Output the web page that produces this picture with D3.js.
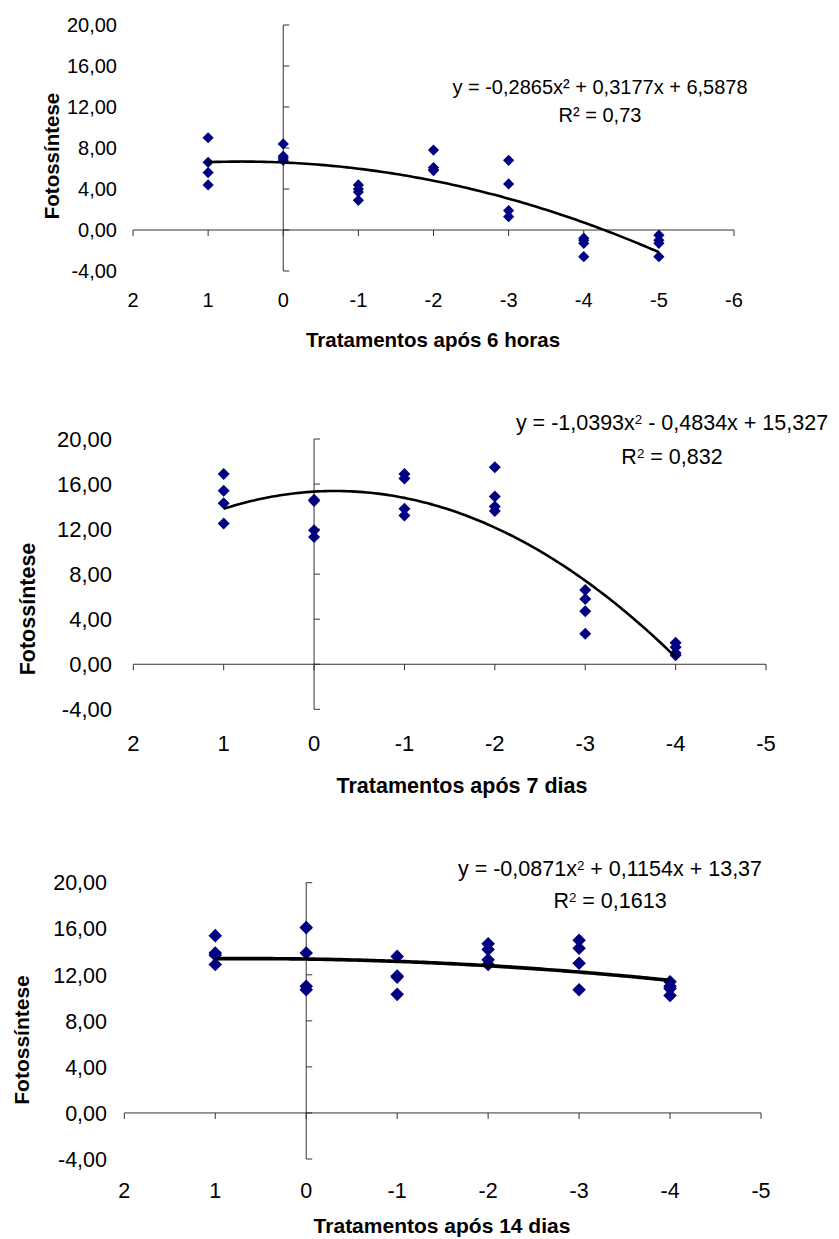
<!DOCTYPE html>
<html>
<head>
<meta charset="utf-8">
<script src="https://cdn.jsdelivr.net/npm/d3@7"></script>
<style>
  html, body { margin: 0; padding: 0; background: #fff; }
  svg { display: block; font-family: "Liberation Sans", Arial, sans-serif; }
</style>
</head>
<body>
<svg id="chart" width="839" height="1239"></svg>
<script>
// ---------------- DATA ----------------
const yTickValues = [-4, 0, 4, 8, 12, 16, 20];
const yTickLabels = ["-4,00", "0,00", "4,00", "8,00", "12,00", "16,00", "20,00"];

const xTicks6h = [2, 1, 0, -1, -2, -3, -4, -5, -6];
const xTickLabels6h = ["2", "1", "0", "-1", "-2", "-3", "-4", "-5", "-6"];
const xTicksDays = [2, 1, 0, -1, -2, -3, -4, -5];
const xTickLabelsDays = ["2", "1", "0", "-1", "-2", "-3", "-4", "-5"];

// Panel 1: 6 horas
const treat6h = [1, 0, -1, -2, -3, -4, -5];
const photo6h = [
  [9.0, 6.6, 5.6, 4.4],
  [8.4, 7.2, 7.0, 6.8],
  [4.4, 4.0, 3.7, 2.9],
  [7.8, 6.1, 5.9, 5.8],
  [6.8, 4.5, 1.9, 1.3],
  [-0.8, -1.0, -1.3, -2.6],
  [-0.5, -1.0, -1.3, -2.6]
];
const coef6h = [-0.2865, 0.3177, 6.5878];

// Panel 2: 7 dias
const treat7d = [1, 0, -1, -2, -3, -4];
const photo7d = [
  [16.9, 15.4, 14.3, 12.5],
  [14.6, 14.5, 11.9, 11.3],
  [16.9, 16.5, 13.8, 13.2],
  [17.5, 14.9, 14.0, 13.6],
  [6.6, 5.8, 4.7, 2.7],
  [1.9, 1.5, 1.0, 0.8]
];
const coef7d = [-1.0393, -0.4834, 15.327];

// Panel 3: 14 dias
const treat14d = [1, 0, -1, -2, -3, -4];
const photo14d = [
  [15.4, 13.9, 13.7, 12.9],
  [16.1, 13.9, 11.0, 10.7],
  [13.6, 11.9, 11.8, 10.3],
  [14.7, 14.2, 13.3, 12.9],
  [15.0, 14.3, 13.0, 10.7],
  [11.4, 11.0, 10.8, 10.2]
];
const coef14d = [-0.0871, 0.1154, 13.37];

const yTitle = "Fotossíntese";
const xTitles = ["Tratamentos após 6 horas", "Tratamentos após 7 dias", "Tratamentos após 14 dias"];
const eqTexts = [
  {pre: "y = -0,2865x", sup: "²", post: " + 0,3177x + 6,5878", rPre: "R", rSup: "²", rPost: " = 0,73", unicode: true},
  {pre: "y = -1,0393x", sup: "2", post: " - 0,4834x + 15,327", rPre: "R", rSup: "2", rPost: " = 0,832", unicode: false},
  {pre: "y = -0,0871x", sup: "2", post: " + 0,1154x + 13,37", rPre: "R", rSup: "2", rPost: " = 0,1613", unicode: false}
];

// ---------------- LAYOUT ----------------
const panels = [
  {treat: treat6h, photo: photo6h, coef: coef6h, xTicks: xTicks6h, xLabels: xTickLabels6h,
   xDom: [2, -6], xRange: [133, 734], yRange: [271, 25],
   yLabelX: 117, xLabelY: 300, xTitle: [433, 340], yTitleC: [52, 156],
   font: 20, titleFont: 20.5, eq: [600, 87, 115], eqFont: 20, marker: 5.6, lineW: 2.6, eqIdx: 0},
  {treat: treat7d, photo: photo7d, coef: coef7d, xTicks: xTicksDays, xLabels: xTickLabelsDays,
   xDom: [2, -5], xRange: [133.3, 766], yRange: [709.3, 439],
   yLabelX: 112, xLabelY: 743, xTitle: [462, 785], yTitleC: [27, 609],
   font: 22, titleFont: 21.5, eq: [672, 422, 456], eqFont: 21.5, marker: 6, lineW: 2.6, eqIdx: 1},
  {treat: treat14d, photo: photo14d, coef: coef14d, xTicks: xTicksDays, xLabels: xTickLabelsDays,
   xDom: [2, -5], xRange: [124.3, 761], yRange: [1159, 882.7],
   yLabelX: 107, xLabelY: 1190, xTitle: [442, 1225], yTitleC: [21, 1040],
   font: 21.5, titleFont: 21, eq: [610, 868, 900], eqFont: 21.5, marker: 6.8, lineW: 3.6, eqIdx: 2}
];

const svg = d3.select("#chart");
const axisColor = "#333";
const markColor = "#000080";

panels.forEach(p => {
  const g = svg.append("g");
  const x = d3.scaleLinear().domain(p.xDom).range(p.xRange);
  const y = d3.scaleLinear().domain([-4, 20]).range(p.yRange);

  // horizontal axis at y = 0
  g.append("line")
    .attr("x1", x(p.xDom[0])).attr("x2", x(p.xDom[1]))
    .attr("y1", y(0)).attr("y2", y(0))
    .attr("stroke", axisColor).attr("stroke-width", 1);
  g.selectAll(".xt").data(p.xTicks).enter().append("line")
    .attr("x1", d => x(d)).attr("x2", d => x(d))
    .attr("y1", y(0)).attr("y2", y(0) + 6)
    .attr("stroke", axisColor).attr("stroke-width", 1);

  // vertical axis at x = 0
  g.append("line")
    .attr("x1", x(0)).attr("x2", x(0))
    .attr("y1", y(20)).attr("y2", y(-4))
    .attr("stroke", axisColor).attr("stroke-width", 1);
  g.selectAll(".yt").data(yTickValues).enter().append("line")
    .attr("x1", x(0)).attr("x2", x(0) + 6)
    .attr("y1", d => y(d)).attr("y2", d => y(d))
    .attr("stroke", axisColor).attr("stroke-width", 1);

  // y tick labels (low position)
  g.selectAll(".yl").data(yTickValues).enter().append("text")
    .attr("x", p.yLabelX).attr("y", d => y(d)).attr("dy", "0.36em")
    .attr("text-anchor", "end").attr("font-size", p.font).attr("fill", "#000")
    .text((d, i) => yTickLabels[i]);

  // x tick labels (low position)
  g.selectAll(".xl").data(p.xTicks).enter().append("text")
    .attr("x", d => x(d)).attr("y", p.xLabelY).attr("dy", "0.36em")
    .attr("text-anchor", "middle").attr("font-size", p.font).attr("fill", "#000")
    .text((d, i) => p.xLabels[i]);

  // axis titles
  g.append("text")
    .attr("x", p.xTitle[0]).attr("y", p.xTitle[1]).attr("dy", "0.36em")
    .attr("text-anchor", "middle").attr("font-size", p.titleFont).attr("font-weight", "bold")
    .text(xTitles[p.eqIdx]);
  g.append("text")
    .attr("transform", `translate(${p.yTitleC[0]},${p.yTitleC[1]}) rotate(-90)`)
    .attr("dy", "0.36em")
    .attr("text-anchor", "middle").attr("font-size", p.titleFont).attr("font-weight", "bold")
    .text(yTitle);

  // trend line (from displayed regression equation)
  const [a, b, c] = p.coef;
  const xMin = d3.min(p.treat), xMax = d3.max(p.treat);
  const xs = d3.range(0, 121).map(i => xMax - (xMax - xMin) * i / 120);
  const line = d3.line().x(d => x(d)).y(d => y(a * d * d + b * d + c));

  // points (diamonds)
  const pts = [];
  p.treat.forEach((t, i) => p.photo[i].forEach(v => pts.push([t, v])));
  const r = p.marker;
  const diamond = `M0,${-r}L${r},0L0,${r}L${-r},0Z`;
  g.selectAll(".pt").data(pts).enter().append("path")
    .attr("d", diamond)
    .attr("transform", d => `translate(${x(d[0])},${y(d[1])})`)
    .attr("fill", markColor);

  g.append("path").datum(xs).attr("d", line)
    .attr("fill", "none").attr("stroke", "#000").attr("stroke-width", p.lineW)
    .attr("stroke-linejoin", "round");

  // equation text
  const e = eqTexts[p.eqIdx];
  const t1 = g.append("text").attr("x", p.eq[0]).attr("y", p.eq[1]).attr("dy", "0.36em")
    .attr("text-anchor", "middle").attr("font-size", p.eqFont).attr("fill", "#000");
  t1.append("tspan").text(e.pre);
  if (e.unicode) {
    t1.append("tspan").text(e.sup);
  } else {
    t1.append("tspan").attr("baseline-shift", "45%").attr("font-size", p.eqFont * 0.62).text(e.sup);
  }
  t1.append("tspan").text(e.post);

  const t2 = g.append("text").attr("x", p.eq[0]).attr("y", p.eq[2]).attr("dy", "0.36em")
    .attr("text-anchor", "middle").attr("font-size", p.eqFont).attr("fill", "#000");
  t2.append("tspan").text(e.rPre);
  if (e.unicode) {
    t2.append("tspan").text(e.rSup);
  } else {
    t2.append("tspan").attr("baseline-shift", "45%").attr("font-size", p.eqFont * 0.62).text(e.rSup);
  }
  t2.append("tspan").text(e.rPost);
});
</script>
</body>
</html>
